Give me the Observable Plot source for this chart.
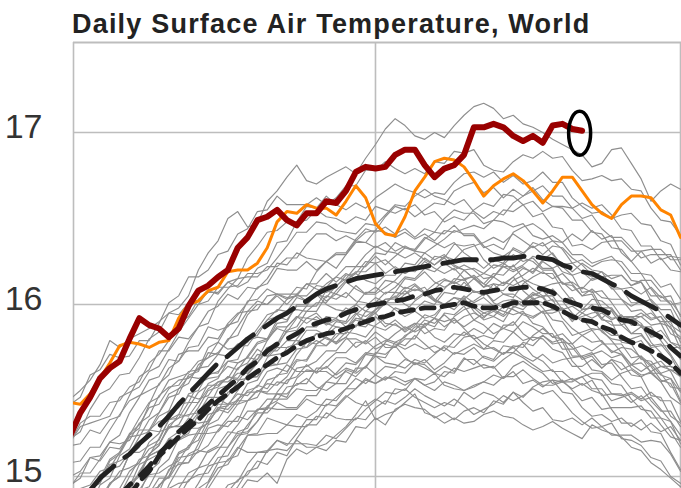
<!DOCTYPE html>
<html><head><meta charset="utf-8">
<script src="https://cdn.jsdelivr.net/npm/d3@7"></script>
<script src="https://cdn.jsdelivr.net/npm/@observablehq/plot@0.6"></script>
<style>
html,body{margin:0;padding:0;background:#fff;}
#wrap{position:relative;width:681px;height:488px;overflow:hidden;}
#title{position:absolute;left:72px;top:9px;line-height:27px;font:bold 27px "Liberation Sans",Arial,sans-serif;letter-spacing:1.2px;color:#222;white-space:nowrap;}
#chart{position:absolute;left:0;top:40px;}
</style></head><body>
<div id="wrap">
<div id="title">Daily Surface Air Temperature, World</div>
<div id="chart"></div>
</div>
<script>
// day index: 0 = first day of the month at the left edge (gridlines at month starts)
const yTicks = [15, 16, 17];
const monthStarts = [30, 61];
const xDomain = [-0.69, 61.1];
const yDomain = [14.93, 17.523];

const red2024Start = -1;
const red2024 = [15.24,15.37,15.46,15.57,15.63,15.67,15.80,15.92,15.88,15.86,15.81,15.86,15.99,16.08,16.11,16.16,16.20,16.33,16.39,16.49,16.51,16.55,16.49,16.46,16.53,16.53,16.60,16.59,16.66,16.77,16.80,16.79,16.80,16.87,16.90,16.90,16.81,16.74,16.79,16.81,16.87,17.03,17.03,17.05,17.03,16.98,16.95,16.98,16.94,17.04,17.05,17.02,17.01];

const orange2023Start = -1;
const orange2023 = [15.43,15.42,15.48,15.57,15.66,15.76,15.78,15.77,15.75,15.78,15.79,15.92,16.00,16.02,16.08,16.10,16.19,16.20,16.20,16.24,16.33,16.48,16.54,16.53,16.58,16.56,16.56,16.52,16.60,16.69,16.62,16.47,16.41,16.40,16.51,16.66,16.74,16.83,16.85,16.84,16.80,16.72,16.63,16.69,16.73,16.76,16.72,16.66,16.59,16.66,16.74,16.74,16.66,16.58,16.53,16.50,16.58,16.63,16.63,16.62,16.55,16.52,16.39];

const meanTopStart = 1;
const meanTop = [14.92,14.99,15.04,15.09,15.13,15.19,15.24,15.29,15.35,15.42,15.48,15.54,15.60,15.66,15.70,15.75,15.80,15.84,15.88,15.92,15.95,15.99,16.02,16.06,16.09,16.11,16.13,16.15,16.16,16.17,16.18,16.19,16.20,16.21,16.22,16.23,16.24,16.25,16.26,16.26,16.26,16.26,16.27,16.27,16.28,16.28,16.27,16.26,16.23,16.21,16.19,16.18,16.15,16.12,16.09,16.05,16.02,15.99,15.96,15.92,15.88];

const meanMidStart = 4;
const meanMid = [14.89,14.95,15.00,15.06,15.13,15.19,15.26,15.31,15.37,15.42,15.47,15.52,15.57,15.63,15.67,15.73,15.77,15.80,15.83,15.87,15.89,15.91,15.92,15.95,15.97,15.99,16.00,16.01,16.02,16.03,16.05,16.06,16.08,16.09,16.10,16.09,16.08,16.07,16.08,16.09,16.09,16.10,16.10,16.09,16.07,16.03,16.01,15.99,15.98,15.97,15.94,15.91,15.90,15.87,15.84,15.81,15.75,15.70];

const meanLowStart = 5;
const meanLow = [14.89,14.97,15.03,15.12,15.17,15.23,15.28,15.33,15.39,15.44,15.48,15.52,15.57,15.61,15.65,15.69,15.72,15.76,15.79,15.81,15.83,15.84,15.86,15.88,15.90,15.92,15.93,15.95,15.96,15.97,15.98,15.98,15.99,16.00,16.01,15.99,15.98,15.98,15.99,16.01,16.01,16.01,16.01,15.99,15.96,15.93,15.91,15.90,15.87,15.85,15.81,15.78,15.76,15.73,15.70,15.66,15.60];

// earlier years (gray), first day of each series
const grayStart = [14,12,9,8,7,6,5,4,4,3,2,1,1,0,-1,-1,-1,-1,-1,-1,-1,-1,-1,-1,-1,-1,-1,-1,-1,-1,-1,-1, 8,7,6,5,4,2,1,0,-1,-1,-1,-1,10,-1];
const grayYears = [
[14.78,14.86,14.90,14.98,14.97,15.02,14.96,15.10,15.16,15.13,15.17,15.19,15.24,15.29,15.36,15.44,15.33,15.36,15.38,15.43,15.48,15.37,15.35,15.31,15.34,15.31,15.32,15.36,15.38,15.35,15.34,15.30,15.27,15.29,15.32,15.28,15.25,15.22,15.30,15.27,15.25,15.23,15.17,15.15,15.08,15.04,14.99,14.94],
[14.76,14.80,14.89,14.87,14.94,15.03,15.05,15.15,15.16,15.15,15.21,15.17,15.17,15.15,15.21,15.20,15.29,15.28,15.34,15.30,15.39,15.42,15.40,15.39,15.34,15.37,15.33,15.38,15.40,15.37,15.44,15.42,15.49,15.43,15.38,15.40,15.33,15.32,15.34,15.30,15.34,15.29,15.31,15.22,15.21,15.18,15.11,15.09,15.00,14.96],
[14.68,14.81,14.83,14.90,14.89,14.91,14.91,14.98,15.01,15.09,15.07,15.14,15.12,15.22,15.30,15.30,15.37,15.34,15.33,15.33,15.39,15.44,15.49,15.48,15.51,15.46,15.43,15.40,15.43,15.41,15.49,15.45,15.49,15.47,15.43,15.49,15.46,15.52,15.55,15.56,15.49,15.48,15.40,15.35,15.36,15.32,15.34,15.29,15.33,15.26,15.25,15.14,15.04],
[14.64,14.69,14.79,14.82,14.93,14.97,15.08,15.09,15.17,15.14,15.14,15.15,15.21,15.18,15.25,15.33,15.33,15.42,15.41,15.47,15.43,15.41,15.45,15.42,15.51,15.50,15.57,15.56,15.60,15.53,15.51,15.50,15.52,15.55,15.53,15.58,15.58,15.62,15.57,15.53,15.53,15.55,15.51,15.54,15.50,15.48,15.39,15.31,15.31,15.27,15.31,15.26,15.29,15.21],
[14.68,14.77,14.81,14.85,14.85,14.92,14.93,15.02,15.10,15.12,15.24,15.25,15.34,15.32,15.30,15.36,15.34,15.38,15.45,15.44,15.51,15.51,15.57,15.54,15.57,15.58,15.55,15.57,15.53,15.55,15.61,15.60,15.68,15.68,15.63,15.64,15.57,15.61,15.54,15.56,15.52,15.56,15.55,15.57,15.53,15.56,15.47,15.48,15.48,15.43,15.47,15.41,15.34,15.32,15.19],
[14.58,14.66,14.70,14.84,14.88,14.98,15.01,15.02,15.11,15.12,15.22,15.30,15.37,15.37,15.43,15.40,15.40,15.47,15.47,15.55,15.54,15.62,15.60,15.64,15.59,15.56,15.61,15.60,15.66,15.65,15.60,15.64,15.61,15.69,15.65,15.70,15.68,15.76,15.75,15.77,15.70,15.67,15.61,15.61,15.56,15.58,15.51,15.51,15.44,15.46,15.48,15.44,15.46,15.39,15.32,15.24],
[14.65,14.76,14.74,14.78,14.83,14.93,15.02,15.05,15.15,15.18,15.26,15.25,15.26,15.32,15.41,15.44,15.52,15.53,15.57,15.52,15.50,15.54,15.54,15.63,15.63,15.72,15.71,15.76,15.69,15.65,15.68,15.62,15.66,15.72,15.71,15.75,15.69,15.67,15.72,15.72,15.78,15.76,15.82,15.77,15.78,15.67,15.61,15.57,15.56,15.48,15.47,15.49,15.45,15.49,15.44,15.44,15.32],
[14.66,14.66,14.76,14.86,14.91,15.04,15.07,15.08,15.15,15.14,15.17,15.17,15.26,15.28,15.39,15.40,15.48,15.46,15.57,15.62,15.61,15.61,15.57,15.61,15.58,15.64,15.70,15.69,15.78,15.76,15.82,15.77,15.72,15.75,15.71,15.74,15.77,15.74,15.79,15.78,15.84,15.79,15.81,15.80,15.74,15.72,15.64,15.64,15.68,15.63,15.68,15.66,15.59,15.58,15.47,15.46,15.35,15.31],
[14.60,14.69,14.71,14.83,14.95,15.00,15.11,15.12,15.14,15.18,15.27,15.34,15.42,15.44,15.50,15.48,15.48,15.48,15.54,15.54,15.63,15.63,15.69,15.69,15.66,15.72,15.71,15.78,15.83,15.87,15.84,15.87,15.81,15.78,15.83,15.82,15.86,15.83,15.89,15.86,15.90,15.83,15.79,15.82,15.78,15.80,15.75,15.68,15.70,15.63,15.68,15.62,15.65,15.61,15.65,15.59,15.57,15.44],
[14.62,14.65,14.73,14.74,14.83,14.95,15.00,15.13,15.16,15.25,15.25,15.26,15.32,15.32,15.44,15.46,15.56,15.58,15.65,15.61,15.61,15.61,15.67,15.72,15.72,15.78,15.78,15.84,15.80,15.78,15.81,15.87,15.87,15.92,15.90,15.92,15.86,15.80,15.82,15.80,15.88,15.88,15.95,15.93,15.96,15.86,15.78,15.77,15.69,15.71,15.73,15.69,15.71,15.63,15.59,15.60,15.55,15.57,15.49],
[14.68,14.71,14.82,14.82,14.84,14.92,14.94,15.03,15.14,15.17,15.27,15.31,15.40,15.39,15.45,15.49,15.49,15.54,15.53,15.58,15.67,15.68,15.77,15.81,15.78,15.81,15.75,15.79,15.74,15.77,15.75,15.82,15.85,15.91,15.89,15.94,15.89,15.93,15.95,15.92,15.98,15.96,15.94,15.96,15.89,15.87,15.81,15.83,15.77,15.82,15.78,15.79,15.72,15.75,15.74,15.69,15.64,15.56,15.54,15.43],
[14.64,14.72,14.81,14.83,14.91,14.92,14.94,15.05,15.10,15.22,15.25,15.36,15.38,15.45,15.42,15.42,15.50,15.52,15.61,15.63,15.61,15.68,15.67,15.76,15.76,15.83,15.83,15.92,15.91,15.95,15.89,15.88,15.85,15.89,15.88,15.92,15.87,15.91,15.87,15.91,15.95,15.93,15.99,15.97,15.94,15.92,15.96,15.97,15.98,15.92,15.92,15.85,15.78,15.73,15.71,15.65,15.70,15.65,15.67,15.61,15.50],
[14.69,14.75,14.74,14.76,14.85,14.90,15.03,15.08,15.22,15.26,15.34,15.31,15.32,15.39,15.37,15.44,15.54,15.56,15.66,15.65,15.66,15.74,15.75,15.83,15.83,15.90,15.89,15.95,15.89,15.87,15.85,15.89,15.84,15.88,15.94,15.92,16.00,15.99,16.04,15.96,15.91,15.93,15.90,15.99,15.97,16.03,16.01,16.03,15.92,15.86,15.82,15.85,15.86,15.82,15.82,15.77,15.79,15.71,15.64,15.62,15.61],
[14.62,14.72,14.71,14.80,14.90,14.94,15.07,15.10,15.13,15.22,15.21,15.24,15.25,15.36,15.38,15.49,15.50,15.59,15.58,15.69,15.75,15.75,15.77,15.75,15.79,15.76,15.81,15.87,15.87,15.96,15.95,16.01,15.97,15.93,15.96,15.92,15.94,16.00,15.99,16.05,16.01,16.04,15.99,16.02,16.03,15.99,16.00,15.95,15.95,15.97,15.92,15.97,15.98,15.91,15.90,15.78,15.77,15.68,15.67,15.60,15.62,15.58],
[14.54,14.64,14.64,14.72,14.73,14.85,14.96,15.01,15.12,15.15,15.19,15.23,15.32,15.40,15.50,15.52,15.58,15.56,15.57,15.58,15.64,15.65,15.75,15.77,15.85,15.85,15.82,15.87,15.86,15.94,15.99,16.04,16.01,16.05,16.00,15.97,16.02,16.00,16.07,16.06,16.13,16.07,16.08,16.01,15.98,16.03,16.01,16.06,16.04,15.97,15.97,15.90,15.95,15.92,15.95,15.91,15.94,15.88,15.88,15.78,15.72,15.64,15.61],
[14.63,14.65,14.68,14.75,14.75,14.84,14.95,15.00,15.13,15.18,15.29,15.29,15.30,15.37,15.39,15.51,15.53,15.63,15.66,15.74,15.70,15.71,15.72,15.80,15.87,15.87,15.93,15.92,15.98,15.95,15.93,15.97,16.03,16.04,16.10,16.08,16.10,16.03,16.00,16.04,16.03,16.08,16.05,16.12,16.11,16.16,16.08,16.03,16.05,15.97,15.97,15.99,15.95,16.00,15.92,15.88,15.88,15.83,15.87,15.82,15.85,15.78,15.76],
[14.70,14.73,14.84,14.83,14.84,14.92,14.93,15.02,15.13,15.18,15.30,15.34,15.43,15.43,15.51,15.55,15.55,15.60,15.60,15.66,15.75,15.77,15.87,15.93,15.92,15.95,15.89,15.92,15.87,15.91,15.89,15.97,16.00,16.07,16.06,16.11,16.06,16.09,16.14,16.13,16.20,16.15,16.10,16.12,16.06,16.06,16.02,16.07,16.04,16.09,16.03,16.04,15.97,16.03,16.02,15.97,15.91,15.83,15.83,15.75,15.76,15.76,15.68],
[14.73,14.82,14.84,14.91,14.91,14.93,15.03,15.08,15.20,15.25,15.38,15.40,15.47,15.45,15.47,15.55,15.57,15.66,15.69,15.68,15.75,15.75,15.85,15.87,15.96,15.96,16.05,16.03,16.07,16.02,16.01,15.99,16.03,16.03,16.08,16.03,16.07,16.02,16.09,16.15,16.14,16.17,16.12,16.09,16.08,16.14,16.17,16.21,16.18,16.18,16.09,16.02,15.97,15.98,15.92,15.97,15.91,15.93,15.89,15.81,15.82,15.75,15.75],
[14.69,14.71,14.80,14.83,14.96,15.00,15.13,15.18,15.27,15.26,15.28,15.36,15.35,15.43,15.54,15.57,15.67,15.66,15.69,15.77,15.79,15.89,15.90,16.00,16.00,16.06,16.00,15.97,15.96,16.00,15.96,16.01,16.07,16.07,16.15,16.14,16.19,16.13,16.10,16.13,16.10,16.15,16.12,16.18,16.17,16.23,16.15,16.12,16.10,16.12,16.13,16.08,16.10,16.07,16.08,16.01,15.93,15.92,15.95,15.91,15.93,15.86,15.81],
[14.76,14.86,14.90,15.01,15.04,15.06,15.14,15.14,15.18,15.21,15.33,15.36,15.48,15.50,15.60,15.60,15.71,15.77,15.79,15.81,15.80,15.86,15.84,15.92,15.99,15.99,16.08,16.06,16.13,16.09,16.06,16.10,16.06,16.10,16.16,16.15,16.21,16.19,16.24,16.20,16.23,16.20,16.15,16.16,16.12,16.16,16.21,16.19,16.26,16.26,16.19,16.17,16.07,16.08,15.98,15.98,15.90,15.93,15.93,15.95,15.90,15.90,15.78],
[14.70,14.82,14.93,14.96,15.07,15.09,15.12,15.17,15.27,15.37,15.48,15.51,15.58,15.57,15.59,15.61,15.67,15.68,15.80,15.82,15.91,15.93,15.91,15.99,15.99,16.07,16.12,16.16,16.14,16.18,16.14,16.12,16.17,16.17,16.24,16.23,16.30,16.26,16.29,16.23,16.20,16.21,16.18,16.23,16.22,16.19,16.22,16.18,16.25,16.21,16.24,16.19,16.24,16.20,16.19,16.10,16.03,15.96,15.97,15.92,15.93,15.83,15.80],
[14.73,14.82,14.93,14.96,15.09,15.13,15.23,15.24,15.26,15.35,15.38,15.51,15.54,15.65,15.69,15.78,15.74,15.75,15.78,15.86,15.94,15.96,16.03,16.05,16.12,16.09,16.07,16.10,16.17,16.18,16.25,16.24,16.26,16.21,16.18,16.22,16.21,16.28,16.27,16.35,16.34,16.35,16.26,16.21,16.24,16.20,16.23,16.28,16.26,16.30,16.22,16.17,16.19,16.16,16.19,16.15,16.17,16.11,16.13,16.02,15.95,15.88,15.84],
[14.83,14.91,14.92,14.99,15.10,15.14,15.25,15.30,15.40,15.42,15.51,15.56,15.57,15.63,15.64,15.71,15.80,15.82,15.94,16.00,16.00,16.05,16.00,16.06,16.02,16.06,16.04,16.11,16.15,16.22,16.22,16.28,16.23,16.28,16.33,16.32,16.39,16.36,16.33,16.36,16.30,16.26,16.21,16.26,16.24,16.33,16.30,16.34,16.29,16.34,16.33,16.27,16.23,16.17,16.16,16.09,16.09,16.10,16.06,16.10,16.04,16.05,15.93],
[14.95,14.99,15.11,15.12,15.20,15.19,15.21,15.31,15.35,15.47,15.52,15.53,15.61,15.62,15.75,15.78,15.88,15.90,16.02,16.03,16.09,16.06,16.06,16.06,16.12,16.12,16.18,16.13,16.18,16.15,16.23,16.30,16.29,16.36,16.33,16.31,16.30,16.34,16.38,16.43,16.41,16.41,16.34,16.30,16.28,16.32,16.29,16.36,16.34,16.37,16.32,16.24,16.26,16.22,16.25,16.26,16.25,16.18,16.18,16.09,16.02,16.02,15.94],
[15.00,15.03,15.11,15.09,15.17,15.16,15.24,15.28,15.42,15.54,15.59,15.71,15.73,15.73,15.81,15.80,15.89,15.95,15.96,16.02,16.00,16.06,16.03,16.10,16.09,16.19,16.25,16.29,16.29,16.37,16.36,16.33,16.36,16.31,16.34,16.31,16.38,16.42,16.41,16.46,16.40,16.40,16.33,16.35,16.32,16.42,16.45,16.47,16.43,16.37,16.36,16.29,16.29,16.24,16.26,16.28,16.22,16.14,16.13,16.05,16.05,16.00,16.01],
[14.94,15.02,15.02,15.10,15.20,15.24,15.37,15.46,15.56,15.58,15.68,15.67,15.75,15.76,15.87,15.85,15.87,15.94,16.01,16.10,16.12,16.21,16.20,16.20,16.25,16.20,16.25,16.21,16.29,16.36,16.36,16.43,16.42,16.39,16.42,16.38,16.41,16.37,16.43,16.42,16.44,16.46,16.44,16.49,16.48,16.45,16.47,16.40,16.38,16.40,16.36,16.41,16.37,16.43,16.38,16.40,16.30,16.25,16.18,16.17,16.10,16.12,16.03],
[15.08,15.09,15.17,15.17,15.27,15.36,15.44,15.47,15.50,15.53,15.63,15.67,15.78,15.87,15.96,15.99,16.06,16.03,16.10,16.09,16.15,16.24,16.23,16.30,16.27,16.26,16.25,16.30,16.30,16.38,16.44,16.42,16.45,16.41,16.44,16.39,16.44,16.42,16.50,16.55,16.53,16.53,16.47,16.49,16.55,16.54,16.58,16.51,16.53,16.45,16.44,16.34,16.35,16.32,16.36,16.37,16.37,16.31,16.31,16.24,16.27,16.20,16.19],
[15.18,15.19,15.27,15.25,15.33,15.35,15.47,15.58,15.62,15.73,15.73,15.81,15.80,15.87,15.89,16.02,16.09,16.15,16.16,16.16,16.22,16.22,16.27,16.27,16.35,16.41,16.41,16.37,16.40,16.37,16.42,16.43,16.51,16.57,16.55,16.58,16.52,16.54,16.48,16.51,16.49,16.55,16.59,16.57,16.64,16.63,16.58,16.60,16.54,16.57,16.56,16.49,16.49,16.42,16.41,16.33,16.32,16.25,16.31,16.32,16.32,16.26,16.26],
[15.20,15.31,15.35,15.35,15.43,15.44,15.52,15.55,15.66,15.71,15.79,15.89,15.93,16.03,16.07,16.07,16.13,16.10,16.13,16.21,16.24,16.36,16.37,16.48,16.49,16.55,16.51,16.50,16.47,16.51,16.49,16.57,16.55,16.53,16.56,16.51,16.55,16.59,16.58,16.66,16.69,16.71,16.65,16.68,16.62,16.67,16.63,16.68,16.61,16.57,16.57,16.56,16.59,16.56,16.58,16.52,16.44,16.43,16.34,16.34,16.26,16.28,16.27],
[15.22,15.26,15.39,15.48,15.51,15.59,15.60,15.69,15.80,15.84,15.95,15.94,16.01,16.00,16.08,16.06,16.13,16.15,16.27,16.34,16.42,16.43,16.48,16.48,16.57,16.56,16.63,16.58,16.55,16.59,16.56,16.62,16.66,16.70,16.67,16.65,16.62,16.65,16.64,16.71,16.76,16.77,16.74,16.77,16.71,16.75,16.70,16.72,16.77,16.71,16.71,16.62,16.57,16.53,16.54,16.50,16.52,16.53,16.47,16.46,16.37,16.35,16.23],
[15.42,15.46,15.59,15.62,15.71,15.69,15.70,15.79,15.79,15.89,16.01,16.05,16.16,16.16,16.20,16.29,16.31,16.41,16.44,16.54,16.55,16.63,16.58,16.58,16.58,16.62,16.58,16.62,16.69,16.69,16.78,16.78,16.83,16.79,16.76,16.79,16.76,16.83,16.82,16.89,16.88,16.90,16.81,16.78,16.77,16.83,16.87,16.85,16.89,16.85,16.86,16.78,16.72,16.73,16.75,16.72,16.73,16.67,16.66,16.56,16.49,16.48,16.40],
[15.45,15.50,15.56,15.65,15.79,15.75,15.80,15.83,15.86,15.90,15.95,15.98,16.05,16.20,16.30,16.37,16.50,16.54,16.45,16.47,16.60,16.66,16.74,16.81,16.72,16.70,16.74,16.77,16.80,16.76,16.85,16.93,17.02,17.08,17.04,16.98,16.96,17.00,16.97,17.04,17.10,17.15,17.17,17.14,17.08,17.10,17.05,17.03,17.00,16.96,16.93,16.90,16.87,16.80,16.82,16.90,16.91,16.82,16.73,16.60,16.66,16.70,16.67],
[14.67,14.71,14.74,14.83,14.85,14.96,15.05,15.07,15.16,15.24,15.24,15.25,15.25,15.30,15.29,15.29,15.35,15.34,15.40,15.46,15.51,15.56,15.54,15.58,15.56,15.53,15.57,15.53,15.50,15.55,15.53,15.50,15.53,15.55,15.59,15.57,15.64,15.67,15.63,15.60,15.54,15.56,15.50,15.44,15.46,15.39,15.40,15.40,15.40,15.41,15.34,15.34,15.26,15.17],
[14.67,14.71,14.75,14.85,14.87,14.96,15.06,15.08,15.17,15.24,15.25,15.32,15.40,15.39,15.39,15.39,15.45,15.42,15.41,15.46,15.51,15.57,15.54,15.59,15.64,15.63,15.68,15.66,15.63,15.60,15.58,15.63,15.61,15.63,15.65,15.63,15.68,15.72,15.69,15.65,15.61,15.62,15.55,15.55,15.58,15.60,15.60,15.54,15.53,15.45,15.39,15.38,15.30,15.23,15.21],
[14.75,14.78,14.81,14.93,14.96,14.97,15.05,15.07,15.15,15.23,15.30,15.38,15.38,15.45,15.45,15.45,15.51,15.50,15.50,15.55,15.60,15.66,15.65,15.71,15.70,15.66,15.65,15.63,15.68,15.66,15.71,15.76,15.75,15.81,15.82,15.77,15.74,15.71,15.75,15.70,15.67,15.71,15.66,15.68,15.69,15.70,15.72,15.65,15.66,15.58,15.51,15.52,15.44,15.38,15.38,15.29],
[14.67,14.68,14.77,14.80,14.95,15.05,15.13,15.16,15.28,15.30,15.29,15.35,15.33,15.39,15.39,15.49,15.56,15.58,15.65,15.60,15.64,15.59,15.63,15.61,15.71,15.76,15.79,15.77,15.74,15.77,15.74,15.76,15.73,15.79,15.84,15.80,15.74,15.75,15.71,15.76,15.75,15.82,15.86,15.81,15.80,15.70,15.70,15.62,15.61,15.56,15.60,15.62,15.58,15.61,15.55,15.46,15.42],
[14.74,14.85,14.88,14.90,14.99,14.99,15.08,15.08,15.19,15.30,15.33,15.42,15.44,15.44,15.50,15.49,15.55,15.54,15.63,15.64,15.67,15.73,15.73,15.80,15.80,15.77,15.81,15.75,15.75,15.80,15.80,15.89,15.87,15.95,15.94,15.99,15.91,15.88,15.83,15.86,15.84,15.90,15.87,15.83,15.83,15.74,15.74,15.76,15.73,15.77,15.77,15.77,15.69,15.70,15.60,15.60,15.52,15.51],
[14.69,14.70,14.78,14.89,14.92,15.01,15.02,15.06,15.09,15.18,15.21,15.33,15.42,15.42,15.48,15.47,15.53,15.51,15.59,15.60,15.71,15.78,15.77,15.81,15.77,15.81,15.88,15.87,15.93,15.87,15.91,15.86,15.89,15.83,15.86,15.85,15.93,15.97,15.99,15.95,15.97,15.94,16.02,15.99,16.04,15.98,15.91,15.90,15.82,15.84,15.86,15.85,15.79,15.72,15.65,15.66,15.61,15.64,15.64,15.61],
[14.64,14.66,14.77,14.87,14.91,15.03,15.12,15.15,15.19,15.21,15.28,15.28,15.31,15.40,15.41,15.50,15.59,15.66,15.73,15.73,15.79,15.79,15.78,15.83,15.80,15.78,15.84,15.83,15.81,15.88,15.92,15.98,15.96,16.02,16.06,16.02,16.00,15.97,16.03,15.98,15.93,15.96,15.93,15.98,16.02,16.05,16.08,16.02,16.02,15.95,15.90,15.91,15.84,15.80,15.79,15.80,15.82,15.76,15.77,15.70,15.59],
[14.64,14.67,14.76,14.86,14.89,15.00,15.10,15.12,15.22,15.33,15.34,15.36,15.37,15.46,15.46,15.47,15.55,15.63,15.71,15.70,15.77,15.84,15.85,15.92,15.91,15.89,15.87,15.86,15.92,15.91,15.97,16.01,16.01,16.06,16.09,16.07,16.03,16.00,16.04,16.01,16.02,16.06,16.09,16.13,16.11,16.14,16.09,16.05,16.05,15.97,15.91,15.93,15.95,15.96,15.92,15.93,15.93,15.87,15.87,15.79,15.71,15.62],
[14.63,14.71,14.73,14.86,14.95,15.03,15.05,15.08,15.16,15.19,15.28,15.30,15.40,15.49,15.53,15.53,15.58,15.57,15.65,15.68,15.79,15.87,15.87,15.93,15.89,15.93,15.88,15.91,15.90,16.00,16.07,16.07,16.14,16.13,16.09,16.12,16.07,16.12,16.15,16.12,16.15,16.07,16.08,16.02,16.06,16.04,16.12,16.16,16.19,16.15,16.18,16.12,16.05,16.06,15.96,15.96,15.88,15.91,15.93,15.88,15.89,15.78,15.74],
[14.67,14.77,14.82,14.95,14.99,15.12,15.16,15.27,15.27,15.32,15.34,15.42,15.43,15.54,15.57,15.58,15.64,15.62,15.70,15.78,15.80,15.91,15.96,16.04,16.02,16.07,16.02,16.06,16.04,16.11,16.06,16.06,16.10,16.14,16.20,16.19,16.25,16.21,16.18,16.21,16.15,16.16,16.10,16.16,16.22,16.22,16.27,16.25,16.20,16.20,16.12,16.11,16.05,16.09,16.04,16.03,16.03,15.99,16.02,15.97,15.89,15.87,15.74],
[14.81,14.81,14.89,14.87,14.96,15.00,15.13,15.23,15.33,15.37,15.46,15.48,15.59,15.61,15.72,15.71,15.70,15.76,15.76,15.84,15.91,15.97,15.96,15.97,15.96,16.01,16.01,16.08,16.14,16.19,16.19,16.24,16.18,16.22,16.18,16.21,16.27,16.23,16.27,16.22,16.20,16.15,16.18,16.16,16.23,16.29,16.25,16.27,16.21,16.21,16.12,16.13,16.09,16.15,16.16,16.11,16.09,16.01,16.01,16.03,15.97,15.97,15.84],
[14.90,14.93,14.95,15.03,15.05,15.14,15.24,15.34,15.43,15.46,15.56,15.58,15.60,15.67,15.69,15.72,15.79,15.87,15.96,15.97,16.05,16.06,16.04,16.05,16.05,16.11,16.10,16.16,16.22,16.22,16.29,16.34,16.31,16.30,16.27,16.30,16.26,16.23,16.28,16.26,16.32,16.34,16.36,16.39,16.36,16.41,16.37,16.33,16.36,16.29,16.23,16.24,16.19,16.14,16.16,16.17,16.17,16.11,16.14,16.14,16.07,16.00,15.90],
[14.67,14.67,14.69,14.79,14.87,14.95,14.97,15.07,15.14,15.14,15.21,15.19,15.19,15.19,15.18,15.24,15.22,15.28,15.34,15.33,15.40,15.44,15.42,15.46,15.51,15.47,15.44,15.41,15.45,15.41,15.36,15.39,15.42,15.47,15.44,15.47,15.51,15.48,15.50,15.44,15.37,15.32,15.28,15.29,15.24,15.24,15.24,15.20,15.21,15.20,15.13,15.03],
[15.20,15.29,15.31,15.33,15.35,15.46,15.49,15.52,15.61,15.64,15.74,15.84,15.92,16.00,16.02,16.10,16.10,16.11,16.18,16.18,16.20,16.27,16.34,16.42,16.42,16.48,16.47,16.43,16.42,16.41,16.47,16.46,16.52,16.58,16.57,16.63,16.67,16.63,16.61,16.58,16.61,16.54,16.50,16.54,16.52,16.59,16.63,16.66,16.69,16.63,16.63,16.56,16.50,16.52,16.44,16.39,16.39,16.33,16.27,16.29,16.29,16.29,16.20]
];

function rows(values, start, key) {
  return values.map((v, j) => ({day: start + j, temp: v, s: key}));
}
const grayRows = grayYears.flatMap((vals, k) => rows(vals, grayStart[k], k));
const redRows = rows(red2024, red2024Start, "2024");
const orangeRows = rows(orange2023, orange2023Start, "2023");
const topRows = rows(meanTop, meanTopStart, "top");
const midRows = rows(meanMid, meanMidStart, "mid");
const lowRows = rows(meanLow, meanLowStart, "low");

const plot = Plot.plot({
  width: 681,
  height: 448,
  marginLeft: 73,
  marginRight: 0,
  marginTop: 2,
  marginBottom: 0,
  style: {fontFamily: '"Liberation Sans", Arial, sans-serif', background: "#fff", overflow: "visible"},
  x: {domain: xDomain, axis: null},
  y: {domain: yDomain, label: null},
  marks: [
    Plot.gridY(yTicks, {stroke: "#bdbdbd", strokeOpacity: 1, strokeWidth: 1.6}),
    Plot.gridX(monthStarts, {stroke: "#bdbdbd", strokeOpacity: 1, strokeWidth: 1.6}),
    Plot.ruleX([xDomain[0]], {stroke: "#bdbdbd", strokeWidth: 1.6}),
    Plot.ruleY([yDomain[1]], {stroke: "#bdbdbd", strokeWidth: 2}),
    Plot.axisY(yTicks, {label: null, tickSize: 0, tickPadding: 31, fontSize: 34, dy: -5, fill: "#333", tickFormat: d => String(d)}),
    Plot.line(grayRows, {x: "day", y: "temp", z: "s", stroke: "#8e8e8e", strokeWidth: 1.15, strokeLinejoin: "round", clip: true}),
    Plot.line(topRows, {x: "day", y: "temp", stroke: "#222", strokeWidth: 4.8, strokeDasharray: "34,14", clip: true}),
    Plot.line(midRows, {x: "day", y: "temp", stroke: "#222", strokeWidth: 4.8, strokeDasharray: "16,13", clip: true}),
    Plot.line(lowRows, {x: "day", y: "temp", stroke: "#222", strokeWidth: 4.8, strokeDasharray: "13,8", clip: true}),
    Plot.line(orangeRows, {x: "day", y: "temp", stroke: "#ff8400", strokeWidth: 3, strokeLinejoin: "round", clip: true}),
    Plot.line(redRows, {x: "day", y: "temp", stroke: "#990000", strokeWidth: 6, strokeLinejoin: "round", strokeLinecap: "round", clip: true})
  ]
});

document.getElementById("chart").appendChild(plot);

// circle the latest 2024 value
const sx = plot.scale("x"), sy = plot.scale("y");
const last = redRows[redRows.length - 1];
d3.select(plot).append("ellipse")
  .attr("cx", sx.apply(last.day) - 2)
  .attr("cy", sy.apply(last.temp) + 3)
  .attr("rx", 11)
  .attr("ry", 22)
  .attr("fill", "none")
  .attr("stroke", "#000")
  .attr("stroke-width", 3.5);
</script>
</body></html>
